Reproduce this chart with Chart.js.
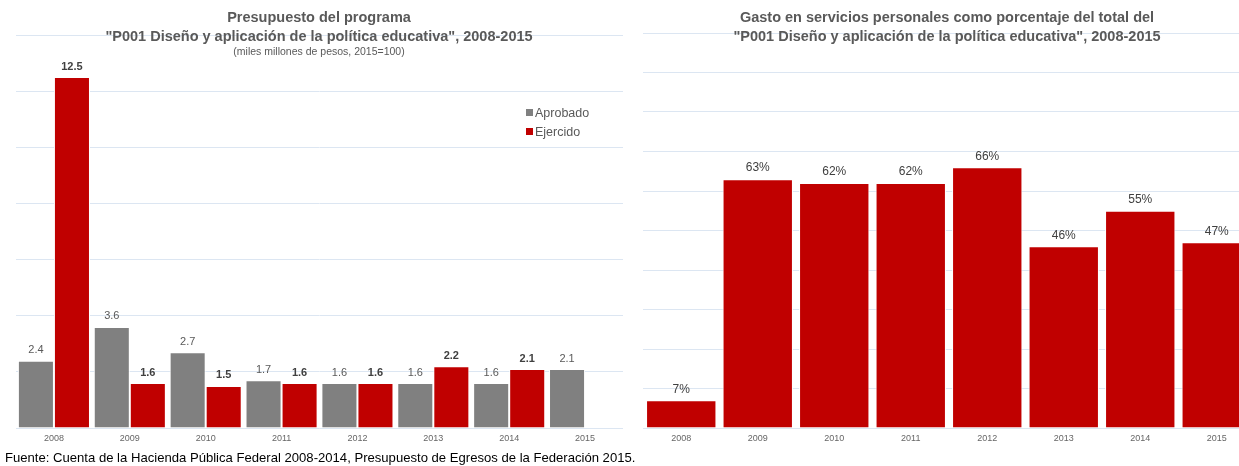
<!DOCTYPE html>
<html>
<head>
<meta charset="utf-8">
<script src="https://cdn.jsdelivr.net/npm/chart.js@4/dist/chart.umd.min.js"></script>
<style>
  html, body { margin: 0; padding: 0; background: #fff; overflow: hidden; }
  body { width: 1239px; height: 466px; position: relative; font-family: "Liberation Sans", Arial, sans-serif; }
  .box { position: absolute; }
  .title { position: absolute; text-align: center; color: #595959; font-weight: bold; font-size: 14.5px; line-height: 19px; white-space: nowrap; }
  .sub { display: block; font-weight: normal; font-size: 10.5px; line-height: 10px; }
  .legend { position: absolute; left: 526px; top: 104px; color: #595959; font-size: 12.5px; line-height: 19px; }
  .legend span { display: inline-block; width: 7px; height: 7px; margin-right: 2px; vertical-align: 1px; }
  .note { position: absolute; left: 5px; top: 450px; font-size: 13.1px; color: #000; white-space: nowrap; font-family: "Liberation Sans Narrow", "Liberation Sans", Arial, sans-serif; }
</style>
</head>
<body>
<div class="box" style="left:16px; top:35px; width:607px; height:418px;"><canvas id="left"></canvas></div>
<div class="box" style="left:643px; top:33px; width:612px; height:420px;"><canvas id="right"></canvas></div>

<div class="title" style="left:0; width:638px; top:8px;">Presupuesto del programa<br>"P001 Diseño y aplicación de la política educativa", 2008-2015<span class="sub">(miles millones de pesos, 2015=100)</span></div>
<div class="title" style="left:647px; width:600px; top:8px;">Gasto en servicios personales como porcentaje del total del<br>"P001 Diseño y aplicación de la política educativa", 2008-2015</div>

<div class="legend">
  <div><span style="background:#808080"></span>Aprobado</div>
  <div><span style="background:#c00000"></span>Ejercido</div>
</div>

<div class="note">Fuente: Cuenta de la Hacienda Pública Federal 2008-2014, Presupuesto de Egresos de la Federación 2015.</div>

<script>
// years on both charts
const years = ['2008', '2009', '2010', '2011', '2012', '2013', '2014', '2015'];
// left chart, miles millones de pesos
const aprobado = [2.4, 3.6, 2.7, 1.7, 1.6, 1.6, 1.6, 2.1];
const ejercido = [12.5, 1.6, 1.5, 1.6, 1.6, 2.2, 2.1, null];
// right chart, percent
const servicios = [7, 63, 62, 62, 66, 46, 55, 47];

const gridColor = '#dce6f2';
const tickColor = '#666666';

// draws the value above each bar
const valueLabels = {
    id: 'valueLabels',
    afterDatasetsDraw(chart) {
        const ctx = chart.ctx;
        ctx.save();
        ctx.textAlign = 'center';
        ctx.textBaseline = 'bottom';
        chart.data.datasets.forEach((ds, i) => {
            const meta = chart.getDatasetMeta(i);
            meta.data.forEach((bar, j) => {
                const v = ds.data[j];
                if (v === null) return;
                ctx.font = ds.labelFont;
                ctx.fillStyle = ds.labelColor;
                ctx.fillText(ds.format(v), bar.x, bar.y - 5);
            });
        });
        ctx.restore();
    }
};

function axes(max, step) {
    return {
        x: {
            grid: { display: false, drawTicks: false },
            border: { display: false },
            ticks: { color: tickColor, font: { family: 'Liberation Sans', size: 9 }, padding: 5 },
            afterFit: s => { s.height = 25; }
        },
        y: {
            min: 0, max: max,
            grid: { color: gridColor, drawTicks: false },
            border: { display: false },
            ticks: { display: false, stepSize: step },
            afterFit: s => { s.width = 0; }
        }
    };
}

new Chart(document.getElementById('left'), {
    type: 'bar',
    data: {
        labels: years,
        datasets: [{
            label: 'Aprobado',
            data: aprobado,
            backgroundColor: '#808080',
            borderColor: '#ffffff',
            borderWidth: 1,
            labelFont: '11px "Liberation Sans"',
            labelColor: '#595959',
            format: v => v.toFixed(1)
        }, {
            label: 'Ejercido',
            data: ejercido,
            backgroundColor: '#c00000',
            borderColor: '#ffffff',
            borderWidth: 1,
            labelFont: 'bold 11px "Liberation Sans"',
            labelColor: '#404040',
            format: v => v.toFixed(1)
        }]
    },
    options: {
        responsive: true,
        maintainAspectRatio: false,
        animation: false,
        layout: { padding: 0 },
        datasets: { bar: { barPercentage: 1, categoryPercentage: 0.95 } },
        plugins: { legend: { display: false }, tooltip: { enabled: false } },
        scales: axes(14, 2)
    },
    plugins: [valueLabels]
});

new Chart(document.getElementById('right'), {
    type: 'bar',
    data: {
        labels: years,
        datasets: [{
            label: 'Servicios personales',
            data: servicios,
            backgroundColor: '#c00000',
            borderColor: '#ffffff',
            borderWidth: 1,
            labelFont: '12px "Liberation Sans"',
            labelColor: '#404040',
            format: v => v + '%'
        }]
    },
    options: {
        responsive: true,
        maintainAspectRatio: false,
        animation: false,
        layout: { padding: 0 },
        datasets: { bar: { barPercentage: 0.92, categoryPercentage: 1 } },
        plugins: { legend: { display: false }, tooltip: { enabled: false } },
        scales: axes(100, 10)
    },
    plugins: [valueLabels]
});
</script>
</body>
</html>
